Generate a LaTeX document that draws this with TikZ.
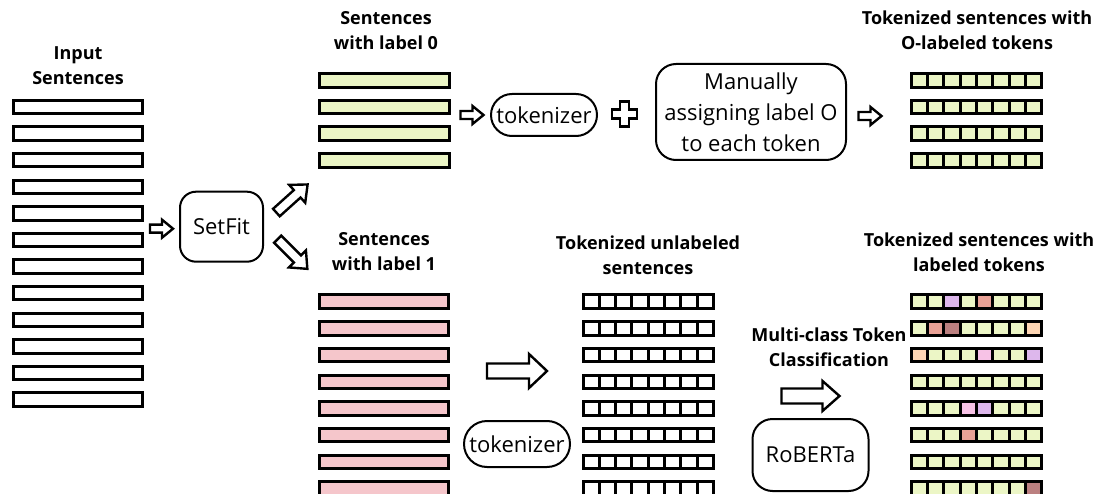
\documentclass[tikz,border=0pt]{standalone}
\usepackage{fontspec}
\setmainfont{Open Sans}
\usetikzlibrary{positioning,calc}

\definecolor{tz}{RGB}{236,246,198}
\definecolor{onefill}{RGB}{245,198,203}
\definecolor{ts}{RGB}{233,161,150}
\definecolor{tm}{RGB}{187,128,128}
\definecolor{tp}{RGB}{254,214,180}
\definecolor{tk}{RGB}{247,194,230}
\definecolor{tl}{RGB}{221,183,236}

\tikzset{
  title/.style={font=\fontsize{18}{25}\selectfont\bfseries, align=center, inner sep=0pt},
  sent/.style={draw, line width=3pt, minimum width=129.5pt, minimum height=13.5pt, inner sep=0pt},
  cell/.style={draw, line width=3pt, minimum width=16.29pt, minimum height=13.5pt, inner sep=0pt},
  model/.style={draw, line width=2pt, rounded corners=#1, inner sep=0pt, align=center,
    font=\fontsize{22}{31}\selectfont},
  pics/blockarrow/.style args={#1/#2/#3/#4}{code={
    % length / shaft half width / head half width / head length
    \draw[line width=2.4pt, fill=white]
      (-#1/2,-#2) -- (#1/2-#4,-#2) -- (#1/2-#4,-#3) -- (#1/2,0)
      -- (#1/2-#4,#3) -- (#1/2-#4,#2) -- (-#1/2,#2) -- cycle;
  }}
}

\begin{document}
\begin{tikzpicture}[x=1pt,y=-1pt]
  \clip (0,0) rectangle (1099,494);

  % Titles
  \node[title] (tin)   at (78,65.5)   {Input\\Sentences};
  \node[title] (tzero) at (386,31)    {Sentences\\with label 0};
  \node[title] (tone)  at (384,251.5) {Sentences\\with label 1};
  \node[title] (tolab) at (977,30.5)  {Tokenized sentences with\\O-labeled tokens};
  \node[title] (tunl)  at (648,255)   {Tokenized unlabeled\\sentences};
  \node[title] (tmc)   at (829,347.5) {Multi-class Token\\Classification};
  \node[title] (tlab)  at (979,252.5) {Tokenized sentences with\\labeled tokens};

  % Sentences
  \foreach \i in {1,...,12}
    \node[sent] (in\i) at (78,{107+(\i-1)*26.6}) {};
  \foreach \i in {1,...,4}
    \node[sent, fill=tz] (zero\i) at (384.3,{80.3+(\i-1)*26.7}) {};
  \foreach \i in {1,...,8}
    \node[sent, fill=onefill] (one\i) at (384.2,{301.7+(\i-1)*26.7}) {};

  % Token grids
  \foreach \r in {1,...,4}
    \foreach \c in {1,...,8}
      \node[cell, fill=tz] (o\r-\c) at ({919.5+(\c-1)*16.29},{80.3+(\r-1)*26.7}) {};
  \foreach \r in {1,...,8}
    \foreach \c in {1,...,8}
      \node[cell, fill=white] (u\r-\c) at ({591.2+(\c-1)*16.29},{301.7+(\r-1)*26.7}) {};
  \foreach \r/\cols in {1/{tz,tz,tl,tz,ts,tz,tz,tz},2/{tz,ts,tm,tz,tz,tz,tz,tp},
      3/{tp,tz,tz,tz,tk,tz,tz,tl},4/{tz,tz,tz,tz,tz,tz,tz,tz},
      5/{tz,tz,tz,tk,tl,tz,tz,tz},6/{tz,tz,tz,ts,tz,tz,tz,tz},
      7/{tz,tz,tz,tz,tz,tz,tz,tz},8/{tz,tz,tz,tz,tz,tz,tz,tm}}
    \foreach \col [count=\c] in \cols
      \node[cell, fill=\col] (l\r-\c) at ({919.5+(\c-1)*16.29},{301.7+(\r-1)*26.7}) {};

  % Models
  \node[model=16pt, minimum width=83pt, minimum height=70pt] (setfit) at (221.5,226.7) {SetFit};
  \node[model=21pt, minimum width=106pt, minimum height=42pt] (tokA) at (544,115) {tokenizer};
  \node[model=20pt, minimum width=190pt, minimum height=96pt] (manual) at (751,112)
    {Manually\\assigning label O\\to each token};
  \node[model=23pt, minimum width=106pt, minimum height=46pt] (tokB) at (517,444) {tokenizer};
  \node[model=20pt, minimum width=116pt, minimum height=72pt] (roberta) at (810.5,455) {RoBERTa};

  % Arrows
  \pic at ([xshift=-17.5pt,yshift=-2pt]setfit.west) {blockarrow={23/4/9/11}};
  \pic[rotate=42] at (292,198.5) {blockarrow={42/5/12/14}};
  \pic[rotate=-45] at (292.5,254) {blockarrow={42/5/12/14}};
  \pic at ([xshift=-18pt]tokA.west) {blockarrow={23/4/9/11}};
  \pic at ([xshift=23pt,yshift=-4pt]manual.east) {blockarrow={23/4/9/11}};
  \pic at ([yshift=49pt]tokB.north) {blockarrow={60/7.5/17/18}};
  \pic at ([yshift=22pt]roberta.north) {blockarrow={58/7.5/15/17}};

  % Plus
  \draw[line width=2.4pt] (620,101.5) -- (629,101.5) -- (629,109.5) -- (637,109.5)
    -- (637,118.5) -- (629,118.5) -- (629,126.5) -- (620,126.5) -- (620,118.5)
    -- (612,118.5) -- (612,109.5) -- (620,109.5) -- cycle;
\end{tikzpicture}
\end{document}
